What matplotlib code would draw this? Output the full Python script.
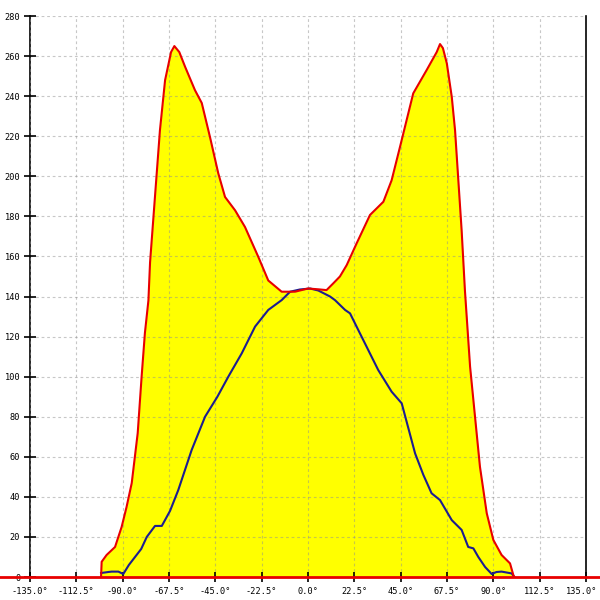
import numpy as np
import matplotlib
matplotlib.use('Agg')
import matplotlib.pyplot as plt
from matplotlib.transforms import ScaledTranslation

# outer envelope (red, filled yellow)
red_angle = [-100.5, -100.2, -97.8, -93.7, -90.5, -88.1, -85.6, -82.7, -80.8, -79.2,
             -77.5, -76.7, -74.3, -71.9, -69.4, -66.5, -64.9, -62.5, -59.7, -54.9,
             -51.6, -47.6, -43.6, -40.3, -35.4, -30.6, -24.1, -19.3, -12.8, -6.3,
             0, 5, 9, 12.3, 15.5, 18.8, 23.6, 30.1, 36.6, 40.6,
             44.7, 51.1, 57.6, 62.5, 64.1, 65.5, 67.4, 69.8, 71.4, 73,
             74.6, 76.2, 78.7, 81.1, 83.5, 86.8, 90, 94, 98.1, 99.7, 100.2]
red_value = [0, 7.6, 11, 15, 25, 35, 46.9, 71.8, 100, 121.8,
             138, 157, 190, 223, 248, 262, 265, 262, 254.7, 243,
             236.6, 219.6, 201.6, 189.7, 183, 174.7, 159.7, 148, 142.4, 142.4,
             144, 143.6, 143.2, 146.6, 150, 155.7, 166.5, 180.7, 187.3, 198,
             214.8, 241.4, 253, 262, 266, 264, 256.4, 239.7, 223, 198,
             173, 143, 105, 80, 55, 31.8, 18.5, 11, 6.8, 1, 0]

# inner curve (blue)
blue_angle = [-100.5, -97, -95.3, -92.1, -89.7, -87, -84, -81, -78.3, -74.3,
              -71, -67, -63, -56.5, -50, -44, -38.7, -32.2, -25.7, -19.3,
              -12.8, -8.7, -4, 1, 5, 10.7, 13.1, 18, 20.4, 24.4,
              34.1, 40.6, 45.5, 52, 56, 60, 64.1, 69.8, 74.6, 77.8,
              80.3, 82.7, 86, 89.2, 91.5, 94, 98.9, 100.2]
blue_value = [2, 2.5, 2.7, 2.7, 1.5, 6, 10, 14, 20, 25.5,
              25.5, 33, 43.4, 63.4, 80, 90, 100, 111.6, 125, 133.3,
              138.2, 142.4, 143.5, 144, 143, 140, 138.2, 133.3, 131.6, 123.3,
              103.3, 92.5, 86.7, 61.7, 51, 41.8, 38.4, 28.4, 23.5, 15,
              14.3, 10, 5, 1.5, 2.5, 2.7, 1.8, 0]

x_ticks = np.arange(-135, 135.1, 22.5)
y_ticks = np.arange(0, 281, 20)

fig = plt.figure(figsize=(6, 6), dpi=100)
ax = fig.add_axes([0.05, 0.0383, 0.9267, 0.935])

ax.fill_between(red_angle, red_value, 0, color='#ffff00', linewidth=0, zorder=1)
ax.plot(blue_angle, blue_value, color='#1c1c90', linewidth=1.5, zorder=4)
ax.plot(red_angle, red_value, color='#e80000', linewidth=1.5, zorder=5)
# baseline runs past the plot box on both sides
ax.plot([-150, 145], [0, 0], color='#e80000', linewidth=2, clip_on=False, zorder=6)

ax.set_xlim(-135, 135)
ax.set_ylim(0, 280)
ax.set_xticks(x_ticks)
ax.set_xticklabels([f'{v:.1f}°' for v in x_ticks])
ax.set_yticks(y_ticks)
ax.set_yticklabels([str(v) for v in y_ticks])

ax.grid(True, color='#909090', alpha=0.5, linestyle=(0, (2.5, 2.5)), linewidth=0.8, zorder=3)
ax.set_axisbelow(False)

for lab in ax.get_xticklabels() + ax.get_yticklabels():
    lab.set_family('DejaVu Sans Mono')
    lab.set_fontsize(6.2)

ax.tick_params(axis='y', direction='inout', length=8, width=1.2, pad=3)
ax.tick_params(axis='x', direction='inout', length=7, width=1.2, pad=4)

# keep the last x label inside the picture
last = ax.get_xticklabels()[-1]
last.set_transform(last.get_transform() + ScaledTranslation(-3 / 72, 0, fig.dpi_scale_trans))

ax.spines['top'].set_visible(False)
ax.spines['bottom'].set_visible(False)
ax.spines['left'].set_linewidth(1.2)
ax.spines['right'].set_linewidth(1.2)

fig.savefig('out.png', dpi=100)
